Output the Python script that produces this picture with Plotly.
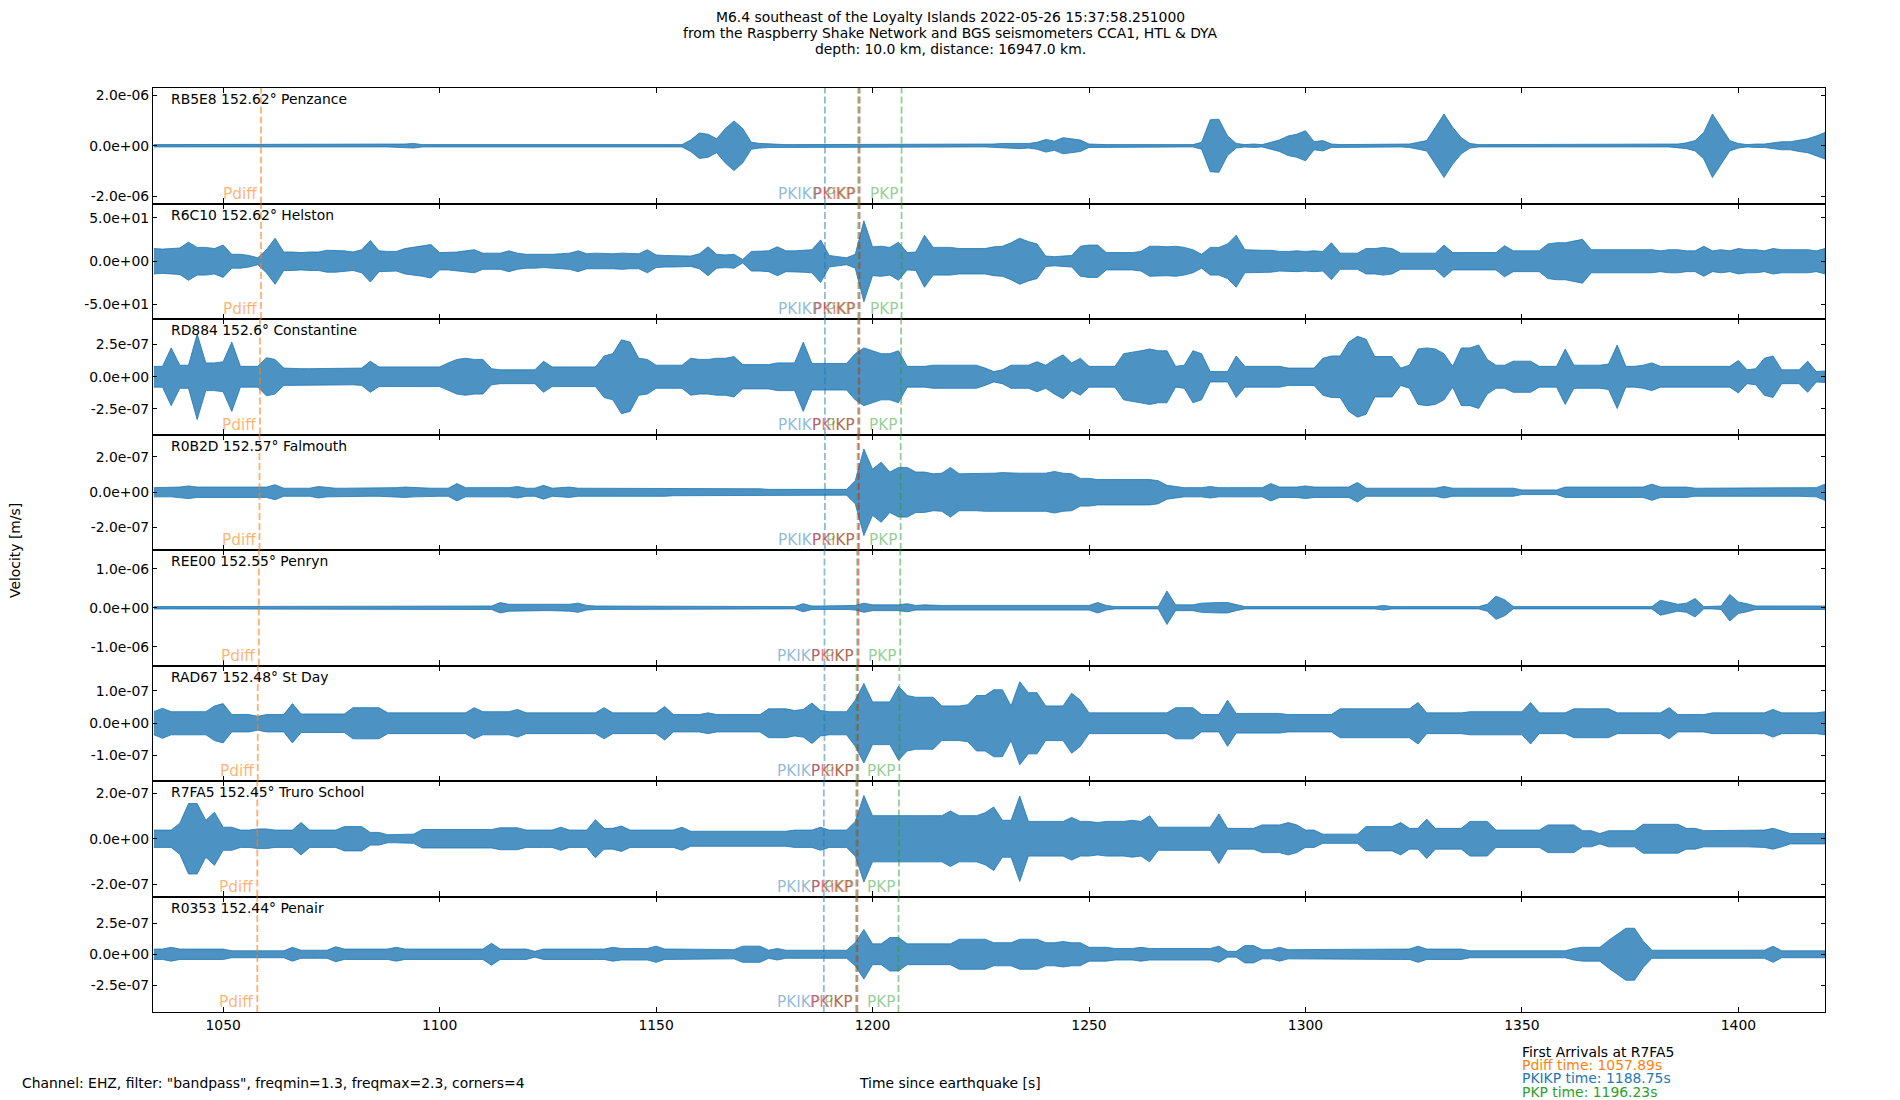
import plotly.graph_objects as go
from plotly.subplots import make_subplots

# envelopes are sampled every 2 s from t_start (seconds since the earthquake)
t_start = 1034.0
dt = 2.0

stations = ['RB5E8', 'R6C10', 'RD884', 'R0B2D', 'REE00', 'RAD67', 'R7FA5', 'R0353']
distances = ['152.62', '152.62', '152.6', '152.57', '152.55', '152.48', '152.45', '152.44']
places = ['Penzance', 'Helston', 'Constantine', 'Falmouth', 'Penryn', 'St Day',
          'Truro School', 'Penair']

# axis limit of each trace (m/s, Helston in counts) and the y tick labels
full_scale = [2.29e-6, 66.7, 4.48e-7, 3.27e-7, 1.48e-6, 1.79e-7, 2.53e-7, 4.65e-7]
ytick_step = [2e-6, 50, 2.5e-7, 2e-7, 1e-6, 1e-7, 2e-7, 2.5e-7]
ytick_up = ['2.0e-06', '5.0e+01', '2.5e-07', '2.0e-07', '1.0e-06', '1.0e-07', '2.0e-07', '2.5e-07']
ytick_down = ['-2.0e-06', '-5.0e+01', '-2.5e-07', '-2.0e-07', '-1.0e-06', '-1.0e-07',
              '-2.0e-07', '-2.5e-07']

# trace envelopes, % of full scale
penzance = [2, 2, 3, 2, 2, 3, 2, 2, 2, 2, 2, 3, 2, 2, 2, 2, 3, 2, 2, 2,
            2, 2, 3, 2, 2, 2, 2, 2, 2, 3, 4, 2, 2, 2, 2, 3, 2, 2, 2, 2,
            2, 2, 3, 2, 2, 2, 2, 2, 2, 2, 2, 2, 2, 2, 2, 2, 2, 2, 2, 2,
            2, 2, 10, 22, 20, 12, 30, 43, 30, 6, 4, 3, 2, 2, 2, 2, 2, 2, 2, 2,
            2, 2, 2, 3, 2, 2, 3, 2, 2, 2, 3, 2, 2, 2, 2, 2, 2, 3, 4, 4,
            5, 4, 6, 11, 8, 14, 12, 10, 3, 2, 2, 2, 2, 2, 3, 2, 2, 2, 2, 2,
            2, 6, 45, 46, 17, 4, 2, 3, 2, 6, 10, 17, 20, 26, 7, 9, 3, 2, 2, 2,
            2, 2, 2, 2, 2, 3, 6, 9, 32, 55, 32, 14, 4, 2, 2, 2, 2, 2, 2, 2,
            2, 2, 2, 2, 2, 2, 2, 2, 2, 2, 2, 2, 2, 2, 2, 2, 3, 5, 9, 23,
            55, 32, 9, 4, 2, 3, 3, 5, 7, 7, 10, 12, 17, 23]
helston = [22, 21, 22, 23, 33, 24, 24, 22, 28, 12, 12, 10, 6, 20, 40, 16, 16, 15, 16, 16,
           19, 19, 18, 16, 20, 36, 18, 17, 17, 22, 24, 26, 29, 15, 15, 16, 18, 20, 14, 14,
           14, 18, 14, 12, 12, 11, 12, 13, 14, 18, 13, 14, 13, 13, 14, 13, 13, 20, 11, 10,
           10, 10, 9, 13, 25, 12, 11, 12, 3, 17, 17, 18, 25, 18, 18, 19, 20, 37, 10, 8,
           6, 12, 70, 25, 26, 24, 33, 15, 16, 45, 24, 24, 24, 22, 22, 22, 22, 25, 26, 32,
           40, 34, 30, 9, 8, 9, 10, 26, 28, 28, 15, 15, 15, 15, 17, 26, 26, 25, 26, 24,
           20, 12, 24, 24, 30, 45, 20, 19, 19, 19, 17, 17, 18, 17, 18, 17, 32, 14, 14, 14,
           22, 22, 24, 22, 14, 14, 14, 14, 14, 28, 15, 15, 15, 15, 15, 15, 27, 18, 18, 18,
           18, 30, 32, 32, 35, 38, 20, 20, 20, 20, 20, 20, 20, 20, 18, 20, 20, 18, 18, 26,
           18, 20, 18, 22, 20, 20, 18, 22, 20, 20, 20, 20, 18, 22]
constantine = [18, 18, 50, 20, 20, 74, 24, 24, 26, 60, 18, 18, 18, 33, 30, 15, 14, 14, 14, 14,
               14, 15, 14, 14, 15, 27, 17, 17, 17, 17, 17, 17, 17, 17, 24, 30, 32, 30, 30, 14,
               12, 12, 12, 12, 12, 27, 17, 17, 17, 17, 17, 17, 36, 40, 64, 60, 32, 30, 20, 20,
               20, 20, 32, 30, 30, 32, 32, 35, 21, 21, 21, 21, 24, 24, 24, 60, 23, 23, 23, 23,
               23, 40, 50, 45, 40, 40, 45, 18, 18, 18, 20, 20, 20, 20, 20, 20, 15, 9, 12, 20,
               20, 20, 26, 20, 30, 38, 24, 32, 18, 18, 18, 18, 40, 42, 45, 48, 45, 45, 18, 20,
               45, 40, 9, 9, 9, 36, 18, 18, 18, 18, 18, 15, 15, 15, 15, 32, 36, 36, 60, 70,
               65, 35, 35, 35, 15, 20, 48, 50, 48, 40, 18, 50, 50, 55, 30, 20, 20, 27, 27, 27,
               18, 18, 18, 48, 20, 20, 20, 20, 22, 55, 18, 18, 20, 24, 18, 18, 18, 18, 18, 18,
               18, 18, 18, 28, 12, 14, 32, 36, 12, 12, 12, 27, 9, 10]
falmouth = [8, 8, 8, 9, 11, 9, 9, 9, 9, 9, 9, 9, 9, 9, 13, 7, 7, 7, 7, 10,
            8, 7, 7, 7, 7, 7, 7, 7, 8, 9, 8, 7, 7, 7, 7, 15, 8, 8, 8, 8,
            8, 8, 10, 7, 7, 12, 7, 8, 9, 7, 7, 7, 7, 7, 7, 7, 7, 7, 7, 7,
            6, 6, 6, 6, 6, 6, 6, 6, 6, 6, 6, 5, 5, 5, 5, 5, 5, 5, 5, 5,
            5, 20, 75, 40, 52, 35, 43, 43, 35, 35, 32, 33, 43, 32, 32, 32, 33, 33, 34, 33,
            33, 33, 33, 33, 36, 33, 32, 24, 24, 22, 22, 22, 22, 22, 22, 22, 20, 12, 10, 8,
            8, 8, 10, 8, 8, 8, 8, 8, 8, 15, 9, 9, 9, 11, 9, 9, 9, 9, 9, 17,
            7, 7, 7, 7, 7, 7, 7, 7, 7, 10, 7, 7, 7, 7, 7, 7, 7, 7, 4, 4,
            4, 4, 4, 9, 9, 9, 9, 9, 9, 9, 9, 9, 9, 14, 9, 9, 9, 9, 7, 7,
            7, 7, 7, 7, 7, 7, 7, 7, 7, 7, 7, 7, 8, 14]
penryn = [2, 2, 2, 2, 2, 2, 3, 3, 2, 2, 2, 2, 2, 2, 2, 2, 2, 2, 2, 2,
          3, 3, 2, 2, 2, 2, 2, 2, 2, 2, 2, 2, 2, 2, 2, 3, 3, 3, 3, 3,
          9, 6, 6, 6, 5, 5, 5, 5, 6, 8, 4, 3, 3, 2, 2, 2, 2, 2, 2, 2,
          2, 2, 2, 2, 2, 3, 2, 2, 2, 2, 2, 2, 2, 2, 2, 7, 3, 3, 3, 3,
          3, 4, 8, 5, 5, 5, 5, 7, 4, 5, 4, 4, 4, 4, 4, 4, 4, 4, 4, 4,
          4, 4, 4, 4, 4, 4, 4, 4, 4, 9, 4, 2, 2, 2, 2, 2, 2, 29, 5, 5,
          5, 8, 9, 9, 9, 5, 2, 2, 2, 2, 2, 2, 2, 2, 2, 2, 2, 2, 2, 2,
          2, 2, 4, 2, 2, 2, 2, 2, 2, 3, 3, 2, 2, 2, 6, 20, 14, 2, 2, 2,
          2, 2, 2, 2, 2, 2, 2, 2, 2, 2, 2, 2, 2, 2, 13, 10, 6, 8, 16, 2,
          2, 3, 23, 10, 7, 3, 3, 3, 3, 3, 3, 3, 3, 3]
st_day = [20, 26, 20, 20, 20, 20, 20, 30, 34, 15, 15, 15, 12, 15, 15, 15, 34, 16, 16, 16,
          16, 16, 16, 27, 27, 27, 27, 18, 18, 18, 18, 18, 18, 18, 18, 18, 18, 27, 20, 20,
          20, 20, 24, 18, 18, 18, 18, 18, 18, 18, 18, 18, 27, 18, 18, 18, 18, 18, 18, 29,
          15, 15, 15, 15, 18, 15, 15, 15, 15, 15, 15, 25, 25, 25, 22, 24, 35, 22, 20, 20,
          20, 40, 69, 37, 37, 37, 64, 48, 45, 45, 45, 30, 30, 30, 32, 48, 48, 58, 58, 30,
          72, 53, 53, 30, 30, 30, 52, 40, 18, 18, 18, 18, 18, 18, 18, 18, 18, 18, 27, 27,
          27, 15, 15, 15, 40, 17, 17, 17, 17, 17, 17, 15, 15, 15, 15, 15, 15, 25, 25, 25,
          25, 25, 25, 25, 25, 25, 36, 18, 18, 18, 18, 18, 20, 20, 20, 20, 20, 20, 20, 36,
          18, 18, 18, 18, 25, 25, 25, 25, 25, 18, 18, 18, 18, 18, 18, 27, 15, 15, 15, 15,
          18, 18, 18, 18, 18, 18, 18, 24, 18, 18, 18, 18, 18, 20]
truro = [15, 15, 15, 27, 61, 61, 32, 46, 20, 20, 15, 15, 17, 17, 15, 15, 15, 28, 15, 15,
         15, 15, 21, 21, 21, 11, 11, 7, 7, 7, 8, 16, 16, 16, 16, 16, 16, 16, 16, 16,
         19, 19, 19, 15, 15, 15, 15, 20, 15, 15, 15, 33, 18, 18, 22, 15, 15, 15, 15, 15,
         15, 20, 13, 13, 13, 13, 13, 13, 13, 13, 13, 13, 13, 13, 15, 15, 15, 20, 15, 15,
         15, 30, 75, 40, 40, 40, 40, 40, 40, 40, 40, 40, 48, 40, 40, 40, 45, 55, 32, 32,
         74, 30, 30, 30, 30, 30, 37, 30, 30, 28, 30, 30, 30, 32, 30, 40, 20, 20, 20, 20,
         20, 20, 20, 43, 18, 18, 18, 18, 24, 24, 24, 28, 24, 15, 15, 8, 8, 8, 8, 8,
         21, 21, 21, 21, 28, 18, 18, 34, 18, 18, 18, 18, 30, 30, 30, 15, 15, 15, 15, 15,
         15, 24, 24, 24, 24, 14, 14, 9, 14, 14, 14, 14, 25, 25, 25, 25, 25, 18, 18, 14,
         14, 14, 14, 14, 14, 14, 15, 18, 14, 9, 9, 9, 9, 9]
penair = [9, 9, 12, 9, 9, 9, 9, 9, 9, 6, 6, 6, 6, 6, 6, 6, 12, 7, 7, 7,
          7, 13, 9, 9, 9, 9, 9, 9, 12, 9, 9, 9, 9, 9, 9, 9, 9, 9, 9, 19,
          9, 9, 9, 9, 5, 9, 9, 9, 9, 9, 9, 9, 9, 12, 10, 10, 10, 10, 14, 9,
          9, 9, 9, 9, 8, 8, 8, 8, 14, 14, 14, 7, 10, 7, 7, 7, 7, 7, 7, 7,
          7, 20, 43, 18, 18, 29, 29, 18, 18, 18, 18, 18, 18, 26, 26, 26, 26, 20, 20, 20,
          26, 26, 26, 20, 20, 22, 20, 20, 12, 12, 12, 10, 10, 10, 12, 10, 10, 10, 10, 10,
          10, 10, 10, 14, 5, 5, 15, 15, 8, 8, 12, 8, 8, 8, 8, 8, 8, 8, 8, 8,
          9, 9, 9, 9, 9, 9, 14, 9, 9, 9, 9, 9, 6, 6, 6, 6, 6, 6, 6, 6,
          6, 6, 6, 6, 10, 12, 12, 12, 24, 35, 45, 45, 23, 7, 7, 7, 7, 7, 7, 7,
          7, 7, 7, 7, 7, 7, 7, 14, 6, 6, 6, 6, 6, 6]

# predicted arrival times at each station [s]
pdiff_t = [1058.75, 1058.75, 1058.5, 1058.4, 1058.25, 1058.0, 1057.89, 1057.89]
pkikp_t = [1189.0, 1189.0, 1189.0, 1189.0, 1188.9, 1188.9, 1188.75, 1188.75]
pkikp_inner_t = [1197.0, 1197.0, 1196.95, 1196.85, 1196.75, 1196.6, 1196.53, 1196.5]
pkp_t = [1196.7, 1196.7, 1196.65, 1196.55, 1196.45, 1196.3, 1196.23, 1196.2]
pkp_late_t = [1206.7, 1206.7, 1206.6, 1206.5, 1206.4, 1206.2, 1206.1, 1206.0]

envelopes = [penzance, helston, constantine, falmouth, penryn, st_day, truro, penair]

BLUE = '#1f77b4'
FONT = 'DejaVu Sans'
W, H = 1900, 1100
L, R, T, B = 153, 1825, 88, 1012   # plot area in page pixels


def px(x):
    return (x - L) / (R - L)


def py(y):
    return (B - y) / (B - T)


times = [t_start + dt * i for i in range(len(penzance))]
# drawn in this order, so the red PKiKP line sits on top of the green PKP one
phases = [
    ('Pdiff', pdiff_t, 'rgba(255,127,14,0.6)'),
    ('PKIKP', pkikp_t, 'rgba(31,119,180,0.5)'),
    ('PKP', pkp_t, 'rgba(44,160,44,0.5)'),
    ('PKP', pkp_late_t, 'rgba(44,160,44,0.5)'),
    ('PKiKP', pkikp_inner_t, 'rgba(214,39,40,0.6)'),
]

fig = make_subplots(rows=8, cols=1, shared_xaxes=True, vertical_spacing=0)

for i, env in enumerate(envelopes):
    row = i + 1
    s = full_scale[i]
    upper = [a / 100 * s for a in env]
    lower = [-a / 100 * s for a in env]
    # the fast oscillation is drawn as its envelope
    fig.add_trace(go.Scatter(x=times + times[::-1], y=upper + lower[::-1],
                             mode='lines', fill='toself', fillcolor='rgba(31,119,180,0.8)',
                             line=dict(color=BLUE, width=0.8), hoverinfo='skip'),
                  row=row, col=1)
    ax = '' if row == 1 else str(row)
    for name, tt, col in phases:
        fig.add_vline(x=tt[i], line=dict(color=col, width=1.8, dash='7px,3px'),
                      row=row, col=1)
        fig.add_annotation(x=tt[i], y=0, xref='x' + ax, yref='y' + ax + ' domain',
                           xanchor='right', yanchor='bottom', xshift=-2, yshift=-1,
                           text=name, showarrow=False,
                           font=dict(size=15.3, color=col, family=FONT))
    fig.add_annotation(x=0.0096, y=1, xref='x' + ax + ' domain', yref='y' + ax + ' domain',
                       xanchor='left', yanchor='top', yshift=-1, showarrow=False,
                       text=f'{stations[i]} {distances[i]}° {places[i]}',
                       font=dict(size=13.9, color='black', family=FONT))
    fig.update_yaxes(range=[-s, s], tickvals=[ytick_step[i], 0, -ytick_step[i]],
                     ticktext=[ytick_up[i], '0.0e+00', ytick_down[i]], row=row, col=1)

fig.update_xaxes(range=[1033.8, 1420], tick0=1050, dtick=50, ticks='inside', ticklen=5,
                 tickcolor='black', showline=True, linecolor='black', linewidth=1.2,
                 mirror='ticks', showgrid=False, zeroline=False,
                 tickfont=dict(size=13.9, color='black'))
fig.update_yaxes(ticks='inside', ticklen=4, tickcolor='black', showline=True,
                 linecolor='black', linewidth=1.2, mirror='ticks', showgrid=False,
                 zeroline=False, tickfont=dict(size=13.9, color='black'))

title_lines = ['M6.4 southeast of the Loyalty Islands 2022-05-26 15:37:58.251000',
               'from the Raspberry Shake Network and BGS seismometers CCA1, HTL & DYA',
               'depth: 10.0 km, distance: 16947.0 km.']
for k, line in enumerate(title_lines):
    fig.add_annotation(x=px(950), y=py(16.5 + 16.3 * k), xref='paper', yref='paper',
                       text=line, showarrow=False, xanchor='center', yanchor='middle',
                       font=dict(size=13.9, color='black'))

fig.add_annotation(x=px(20), y=py(1083), xref='paper', yref='paper', showarrow=False,
                   xanchor='left', yanchor='middle',
                   text='Channel: EHZ, filter: "bandpass", freqmin=1.3, freqmax=2.3, corners=4',
                   font=dict(size=13.9, color='black'))
fig.add_annotation(x=px(950), y=py(1083), xref='paper', yref='paper', showarrow=False,
                   xanchor='center', yanchor='middle', text='Time since earthquake [s]',
                   font=dict(size=13.9, color='black'))
fig.add_annotation(x=px(15), y=py(551), xref='paper', yref='paper', showarrow=False,
                   xanchor='center', yanchor='middle', text='Velocity [m/s]', textangle=-90,
                   font=dict(size=13.9, color='black'))

arrivals = [('First Arrivals at R7FA5', 'black'),
            (f'Pdiff time: {pdiff_t[6]:.2f}s', '#ff7f0e'),
            (f'PKIKP time: {pkikp_t[6]:.2f}s', BLUE),
            (f'PKP time: {pkp_t[6]:.2f}s', '#2ca02c')]
for k, (line, col) in enumerate(arrivals):
    fig.add_annotation(x=px(1520), y=py(1052 + 13.2 * k), xref='paper', yref='paper',
                       showarrow=False, xanchor='left', yanchor='middle', text=line,
                       font=dict(size=13.9, color=col))

fig.update_layout(width=W, height=H,
                  margin=dict(l=L, r=W - R, t=T, b=H - B, pad=0),
                  plot_bgcolor='white', paper_bgcolor='white', showlegend=False,
                  font=dict(family=FONT, size=13.9, color='black'))

# drop the browser's default body margin so the 1900x1100 figure fills the window
fig.write_html('out.html', config={'displayModeBar': False},
               post_script="document.body.style.margin='0px';"
                           "document.body.style.overflow='hidden';")
